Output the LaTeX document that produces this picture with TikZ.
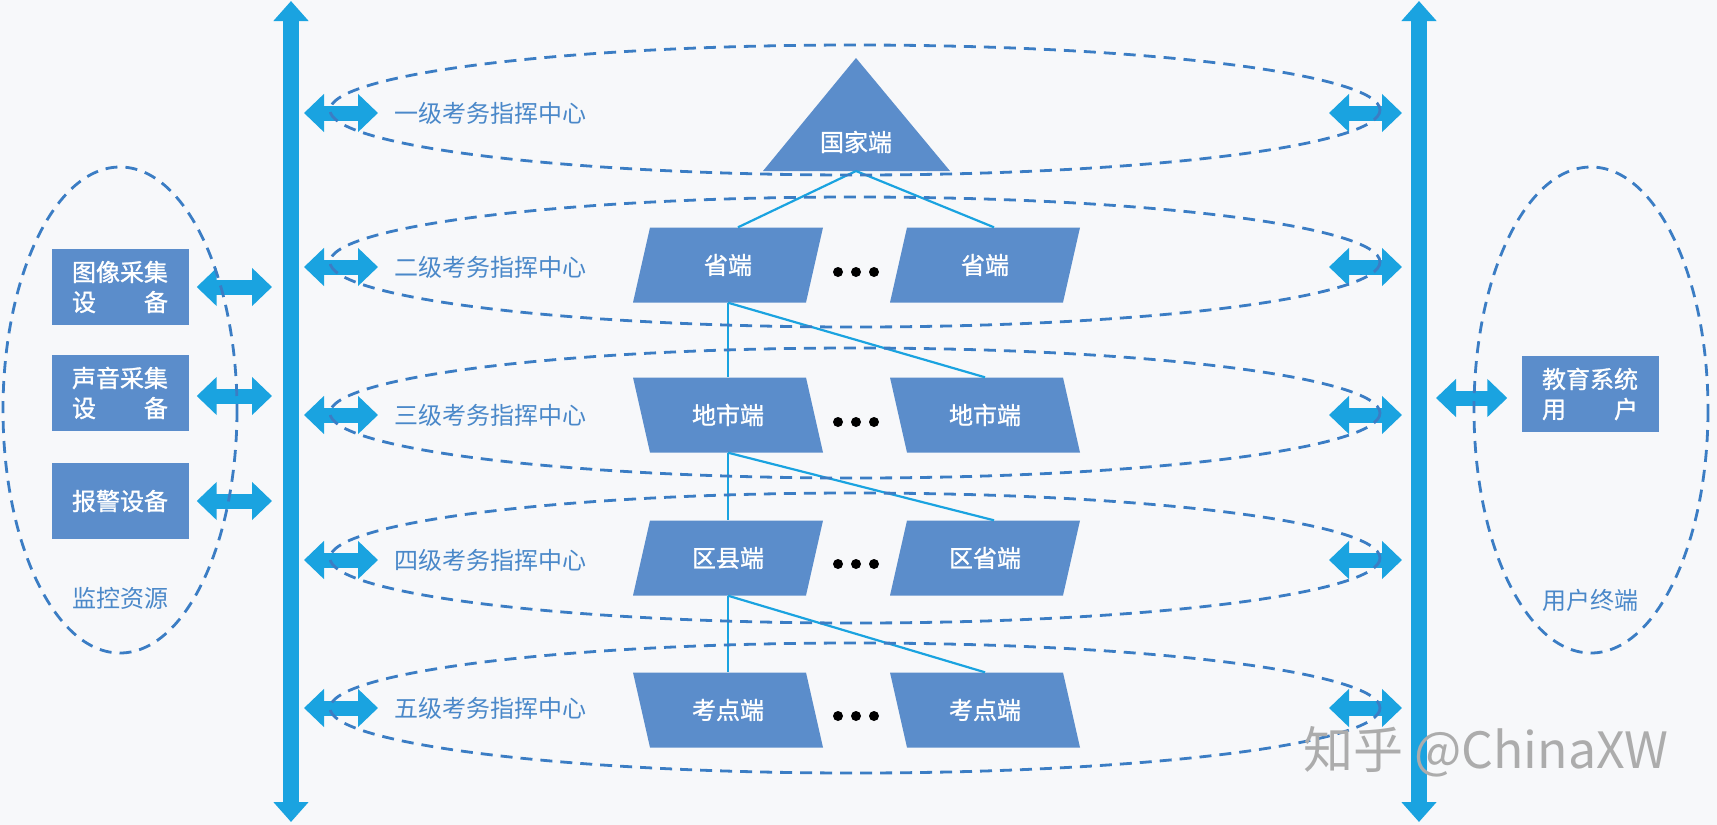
\documentclass[tikz,border=0pt]{standalone}
\usepackage{fontspec}
\newfontfamily\cjk{Noto Sans CJK SC}
\newfontfamily\cjkb[FakeBold=1.2]{Noto Sans CJK SC}
\usetikzlibrary{arrows.meta,calc}
\definecolor{boxblue}{HTML}{5B8DCB}
\definecolor{arrowblue}{HTML}{1AA3E0}
\definecolor{dashblue}{HTML}{3B7DC4}
\definecolor{textblue}{HTML}{4A88C9}
\definecolor{bgc}{HTML}{F7F8FA}
\tikzset{
  bigbar/.style={draw=arrowblue, line width=16pt, {Triangle[width=34pt,length=20pt]}-{Triangle[width=34pt,length=20pt]}},
  fat/.style={draw=arrowblue, line width=15pt, {Triangle[width=37pt,length=20pt]}-{Triangle[width=37pt,length=20pt]}},
  link/.style={draw=arrowblue, line width=2.2pt},
  ring/.style={draw=dashblue, line width=2.8pt, dash pattern=on 12pt off 8pt},
  box/.style={fill=boxblue, text=white, font=\cjkb\fontsize{24}{30}\selectfont, minimum width=137pt, minimum height=76pt, align=center, inner sep=0pt},
  lbl/.style={text=textblue, font=\cjk\fontsize{24}{28}\selectfont, inner sep=0pt},
  ptext/.style={text=white, font=\cjkb\fontsize{24}{28}\selectfont, minimum width=174pt, minimum height=75pt, inner sep=0pt},
  dotc/.style={fill=black}
}
\newcommand\mypara[5]{%
  \fill[boxblue] ({#2-86.5-(#4)*8.5}, {#3+37.5}) -- ({#2+86.5-(#4)*8.5}, {#3+37.5}) -- ({#2+86.5+(#4)*8.5}, {#3-37.5}) -- ({#2-86.5+(#4)*8.5}, {#3-37.5}) -- cycle;
  \node[ptext] (#1) at (#2,#3) {#5};}
\newcommand\mydots[1]{%
  \fill[dotc] (838,#1) circle (5); \fill[dotc] (856,#1) circle (5); \fill[dotc] (874,#1) circle (5);}
\begin{document}
\begin{tikzpicture}[x=1pt,y=-1pt]
\fill[bgc] (0,0) rectangle (1717,825);
\useasboundingbox (0,0) rectangle (1717,825);

% vertical bus bars
\coordinate (lt) at (291,1); \coordinate (lb) at (291,822);
\coordinate (rt) at (1419,1); \coordinate (rb) at (1419,822);
\draw[bigbar] (lt) -- (lb);
\draw[bigbar] (rt) -- (rb);

% level arrows and labels
\foreach \i/\y/\t in {1/113/一级考务指挥中心, 2/267/二级考务指挥中心, 3/415/三级考务指挥中心, 4/560/四级考务指挥中心, 5/708/五级考务指挥中心}{
  \coordinate (la\i) at (304,\y); \coordinate (lb\i) at (378,\y);
  \coordinate (ra\i) at (1329,\y); \coordinate (rb\i) at (1402,\y);
  \draw[fat] (la\i) -- (lb\i);
  \draw[fat] (ra\i) -- (rb\i);
  \node[lbl] (lab\i) at (490,\y) {\t};
}

% left monitoring resources
\node[box] (img) at (120,287) {图像采集\\设\hspace{2em}备};
\node[box] (snd) at (120,393) {声音采集\\设\hspace{2em}备};
\node[box] (alm) at (120,501) {报警设备};
\coordinate (imgb) at (272,287); \coordinate (sndb) at (272,396); \coordinate (almb) at (272,501);
\draw[fat] ($(img.east)+(8,0)$) -- (imgb);
\draw[fat] ($(snd.east)+(8,3)$) -- (sndb);
\draw[fat] ($(alm.east)+(8,0)$) -- (almb);
\node[lbl] (mon) at (120,598) {监控资源};
\draw[ring] (120,410) ellipse [x radius=117, y radius=243];

% right user terminals
\node[box] (edu) at (1590,394) {教育系统\\用\hspace{2em}户};
\coordinate (ub) at (1436,398);
\draw[fat] (ub) -- ($(edu.west)+(-14,4)$);
\node[lbl] (ut) at (1590,600) {用户终端};
\draw[ring] (1591,410) ellipse [x radius=117, y radius=243];

% hierarchy
\fill[boxblue] (856,58) -- (950,171) -- (763,171) -- cycle;
\node[lbl, text=white, font=\cjkb\fontsize{24}{28}\selectfont] (nat) at (856,142) {国家端};
\coordinate (natb) at (856,171);

\mypara{p2l}{728}{265}{1}{省端}
\mypara{p2r}{985}{265}{1}{省端}
\mypara{p3l}{728}{415}{-1}{地市端}
\mypara{p3r}{985}{415}{-1}{地市端}
\mypara{p4l}{728}{558}{1}{区县端}
\mypara{p4r}{985}{558}{1}{区省端}
\mypara{p5l}{728}{710}{-1}{考点端}
\mypara{p5r}{985}{710}{-1}{考点端}

\mydots{272} \mydots{422} \mydots{564} \mydots{716}

\draw[link] (natb) -- ($(p2l.north)+(10,0)$);
\draw[link] (natb) -- ($(p2r.north)+(9,0)$);
\draw[link] (p2l.south) -- (p3l.north);
\draw[link] (p2l.south) -- (p3r.north);
\draw[link] (p3l.south) -- (p4l.north);
\draw[link] (p3l.south) -- ($(p4r.north)+(9,0)$);
\draw[link] (p4l.south) -- (p5l.north);
\draw[link] (p4l.south) -- (p5r.north);

% level rings
\foreach \y in {110,262,413,558,708}{
  \draw[ring] (855,\y) ellipse [x radius=525, y radius=65];
}

% watermark
\node[text=gray!65, font=\cjk\fontsize{50}{50}\selectfont, inner sep=0pt] (wm) at (1486,752) {知乎 @ChinaXW};
\end{tikzpicture}
\end{document}
